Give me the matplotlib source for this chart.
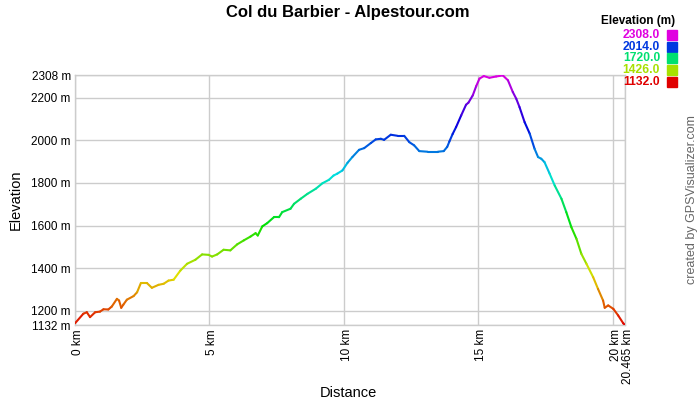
import numpy as np
import matplotlib
matplotlib.use("Agg")
import matplotlib.pyplot as plt
import matplotlib.transforms as mtransforms
from matplotlib.collections import LineCollection
from matplotlib.colors import hsv_to_rgb

plt.rcParams['font.family'] = ['Liberation Sans', 'DejaVu Sans']

title = "Col du Barbier - Alpestour.com"

distance_km = [0.00, 0.31, 0.44, 0.56, 0.75, 0.93, 1.06, 1.24, 1.37, 1.56, 1.64, 1.72, 1.80,
               1.93, 2.18, 2.31, 2.45, 2.68, 2.86, 3.11, 3.30, 3.48, 3.67, 3.92, 4.17, 4.48,
               4.73, 4.97, 5.10, 5.29, 5.53, 5.78, 6.03, 6.28, 6.53, 6.72, 6.80, 6.97, 7.15,
               7.40, 7.59, 7.71, 8.02, 8.15, 8.40, 8.65, 8.96, 9.21, 9.45, 9.62, 9.76, 9.95,
               10.14, 10.32, 10.57, 10.76, 11.01, 11.19, 11.38, 11.50, 11.75, 12.00, 12.25,
               12.44, 12.62, 12.81, 13.12, 13.50, 13.72, 13.85, 13.93, 14.05, 14.18, 14.37,
               14.55, 14.64, 14.80, 14.93, 15.05, 15.21, 15.42, 15.67, 15.92, 16.11, 16.29,
               16.42, 16.54, 16.73, 16.92, 17.10, 17.23, 17.35, 17.47, 17.66, 17.85, 18.10,
               18.28, 18.47, 18.66, 18.84, 19.03, 19.28, 19.46, 19.65, 19.71, 19.84, 20.03,
               20.21, 20.40, 20.465]
elevation_m = [1140, 1185, 1192, 1169, 1192, 1195, 1206, 1205, 1219, 1255, 1247, 1213, 1228,
               1251, 1268, 1286, 1329, 1329, 1307, 1321, 1326, 1341, 1345, 1388, 1420, 1439,
               1464, 1462, 1454, 1464, 1486, 1483, 1511, 1530, 1548, 1564, 1553, 1596, 1611,
               1639, 1639, 1663, 1679, 1702, 1726, 1749, 1773, 1799, 1815, 1835, 1844, 1859,
               1895, 1922, 1956, 1964, 1988, 2005, 2008, 2003, 2027, 2022, 2022,
               1992, 1977, 1950, 1947, 1947, 1950, 1970, 1995, 2030, 2063, 2118,
               2168, 2178, 2212, 2256, 2291, 2303, 2295, 2301, 2306, 2283, 2228,
               2196, 2157, 2086, 2032, 1961, 1922, 1914, 1898, 1844, 1788, 1726,
               1663, 1592, 1537, 1467, 1420, 1357, 1302, 1247, 1213, 1224, 1208,
               1177, 1140, 1132]

y_ticks = [1132, 1200, 1400, 1600, 1800, 2000, 2200, 2308]
y_tick_labels = ["1132 m", "1200 m", "1400 m", "1600 m", "1800 m", "2000 m", "2200 m", "2308 m"]
x_ticks = [0, 5, 10, 15, 20, 20.465]
x_tick_labels = ["0 km", "5 km", "10 km", "15 km", "20 km", "20.465 km"]
legend_values = [2308.0, 2014.0, 1720.0, 1426.0, 1132.0]

emin, emax = 1132.0, 2308.0


def elev_color(e):
    f = (e - emin) / (emax - emin)
    f = min(max(f, 0.0), 1.0)
    return hsv_to_rgb([f * 300.0 / 360.0, 1.0, 0.88])


fig = plt.figure(figsize=(7, 4), dpi=100)
ax = fig.add_axes([75 / 700, 1 - 325 / 400, 550 / 700, 250 / 400])

x = np.array(distance_km)
y = np.array(elevation_m)
pts = np.column_stack([x, y]).reshape(-1, 1, 2)
segs = np.concatenate([pts[:-1], pts[1:]], axis=1)
cols = [elev_color((a + b) / 2) for a, b in zip(y[:-1], y[1:])]
lc = LineCollection(segs, colors=cols, linewidths=1.5, capstyle='round', joinstyle='round', zorder=3)
ax.add_collection(lc)

ax.set_xlim(0, 20.465)
ax.set_ylim(emin, emax)
ax.set_yticks(y_ticks)
ax.set_yticklabels(y_tick_labels)
ax.set_xticks(x_ticks)
ax.set_xticklabels(x_tick_labels, rotation=90)
ax.tick_params(length=0, labelsize=8.5, pad=3, colors='#000000')
shift = mtransforms.ScaledTranslation(3 / 100, 0, fig.dpi_scale_trans)
for lbl in ax.get_xticklabels():
    lbl.set_transform(lbl.get_transform() + shift)
ax.grid(True, color='#cccccc', linewidth=1)
for s in ax.spines.values():
    s.set_color('#cccccc')
    s.set_linewidth(1)

fig.text(16 / 700, 1 - 200 / 400, "Elevation", rotation=90, ha='center', va='center', fontsize=10.5)
fig.text(348 / 700, 1 - 393 / 400, "Distance", ha='center', va='center', fontsize=10.5)

fig.text(348 / 700, 1 - 12 / 400, title, ha='center', va='center', fontsize=12, fontweight='bold')

# legend
fig.text(675 / 700, 1 - 21 / 400, "Elevation (m)", ha='right', va='center', fontsize=8.5, fontweight='bold')
leg_y = [35, 47, 58, 70, 82]
for v, yy in zip(legend_values, leg_y):
    c = elev_color(v)
    fig.text(660 / 700, 1 - yy / 400, f"{v:.1f}", ha='right', va='center', fontsize=8.7,
             fontweight='bold', color=c)
    fig.patches.append(plt.Rectangle((667 / 700, 1 - (yy + 5) / 400), 10 / 700, 10 / 400,
                                     transform=fig.transFigure, color=c, figure=fig))

fig.text(692 / 700, 1 - 200 / 400, "created by GPSVisualizer.com", rotation=90, ha='center',
         va='center', fontsize=9, color='#666666')

fig.savefig("out.png", dpi=100)
